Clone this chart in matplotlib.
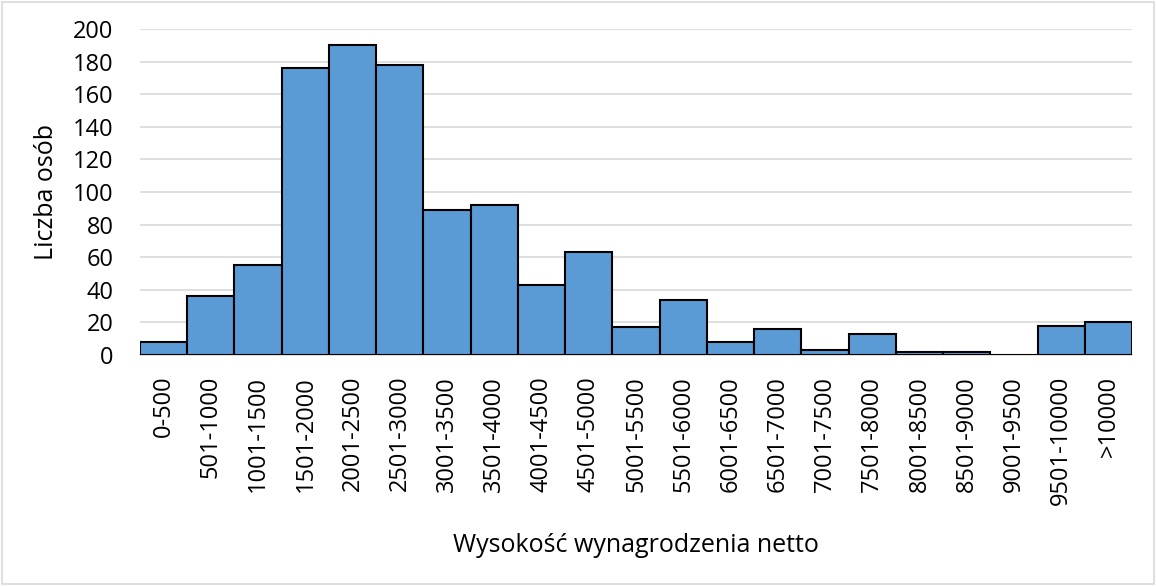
import matplotlib
matplotlib.use("Agg")
import matplotlib.pyplot as plt
from matplotlib.patches import Rectangle

categories = ["0-500", "501-1000", "1001-1500", "1501-2000", "2001-2500", "2501-3000",
              "3001-3500", "3501-4000", "4001-4500", "4501-5000", "5001-5500", "5501-6000",
              "6001-6500", "6501-7000", "7001-7500", "7501-8000", "8001-8500", "8501-9000",
              "9001-9500", "9501-10000", ">10000"]
counts = [8, 36, 55, 176, 190, 178, 89, 92, 43, 63, 17, 34, 8, 16, 3, 13, 2, 2, 0, 18, 20]
yticks = list(range(0, 201, 20))

plt.rcParams['font.family'] = ['Open Sans', 'DejaVu Sans']

fig = plt.figure(figsize=(11.56, 5.86), dpi=100)
ax = fig.add_axes([140/1156, 1-355/586, (1132-140)/1156, (355-29)/586])

x = list(range(len(categories)))
ax.bar(x, counts, width=1.0, color="#5B9BD5", edgecolor="black", linewidth=1.5, zorder=3)
ax.set_xlim(-0.5, len(categories)-0.5)
ax.set_ylim(0, 200)
ax.set_yticks(yticks)
ax.set_xticks(x)
ax.set_xticklabels(categories, rotation=90, fontsize=17, color="#000000")
ax.tick_params(axis='y', labelsize=17, length=0, pad=19)
ax.tick_params(axis='x', length=0, pad=15)
ax.grid(axis='y', color="#D9D9D9", linewidth=1.2, zorder=0)
for s in ['top', 'right', 'left']:
    ax.spines[s].set_visible(False)
ax.spines['bottom'].set_color("#D9D9D9")
ax.spines['bottom'].set_linewidth(1.2)
ax.set_ylabel("Liczba osób", fontsize=18, va='center')
ax.yaxis.set_label_coords(-0.094, 0.5)
ax.set_xlabel("Wysokość wynagrodzenia netto", fontsize=18, va='center')
ax.xaxis.set_label_coords(0.5, -0.583)

fig.patches.append(Rectangle((0.002, 0.003), 0.996, 0.994, transform=fig.transFigure,
                             fill=False, edgecolor="#D9D9D9", linewidth=1.2))
fig.savefig("out.png", dpi=100)
